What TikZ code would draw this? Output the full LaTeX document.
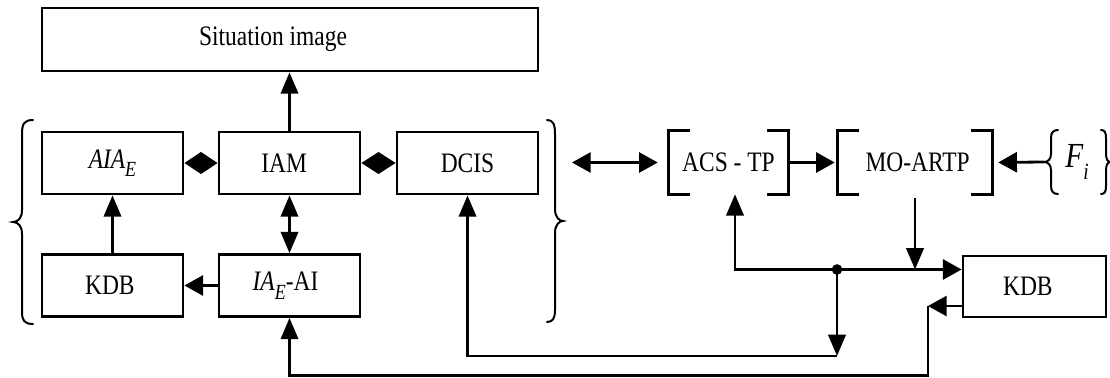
\documentclass[tikz,border=0pt]{standalone}
\usepackage{fontspec}
\setmainfont{Liberation Serif}
\usetikzlibrary{arrows.meta,calc}

% slightly tall lettering
\newcommand\vs[1]{\scalebox{1}[1.2]{#1}}
\newcommand\sub[1]{\raisebox{-0.3em}{\fontsize{13.5}{14}\selectfont\itshape #1}}

\tikzset{
  txt/.style={font=\fontsize{17.6}{20}\selectfont},
  box/.style={txt, draw, line width=2.1pt, inner sep=0pt,
              minimum width=105.75pt, minimum height=46.5pt},
  brk/.style={txt, inner sep=0pt, minimum height=47.25pt},
  conn/.style={line width=2.1pt},
  htip/.tip={Triangle[length=14pt,width=15pt]},
  vtip/.tip={Triangle[length=16pt,width=13pt]},
  harr/.style={conn, -htip},
  varr/.style={conn, -vtip},
  bracepen/.style={line width=1.5pt, line cap=round},
}

\begin{document}
\begin{tikzpicture}[x=0.75pt,y=-0.75pt]
\useasboundingbox (0,0) rectangle (1110,378);

% ---- left group ----
\node[box, minimum width=372pt, minimum height=47.25pt] (si) at (290,39.5)
  {\vs{\hspace*{-25.5pt}Situation image}};
\node[box] (aia)  at (112.5,163)   {\vs{\itshape AIA\sub{E}}};
\node[box] (iam)  at (289.5,163)   {\vs{\hspace*{-8pt}IAM}};
\node[box] (dcis) at (467.5,163)   {\vs{DCIS}};
\node[box] (kdbl) at (112.5,285.5) {\vs{\hspace*{-4pt}KDB}};
\node[box] (iae)  at (289.5,285.5) {\vs{\hspace*{-6pt}{\itshape IA}\sub{E}-AI}};

% ---- right group ----
\node[brk, minimum width=89.25pt] (acs) at (728.5,162.5) {\vs{ACS - TP}};
\node[brk, minimum width=115.5pt] (mo)  at (915,162.5)   {\vs{\hspace*{4pt}MO-ARTP}};
\node[inner sep=0pt, minimum width=49.5pt, minimum height=48pt] (fi) at (1077,162)
  {\vs{\fontsize{22}{24}\selectfont\itshape F\raisebox{-0.35em}{\fontsize{14.5}{15}\selectfont i}}};
\node[box, minimum width=107.25pt, minimum height=45.75pt] (kdbr) at (1034.5,286.5) {\vs{\hspace*{-10pt}KDB}};

% square brackets
\foreach \n in {acs,mo}{
  \draw[conn] ([xshift=15.75pt]\n.north west) -- (\n.north west) -- (\n.south west) -- ([xshift=15.75pt]\n.south west);
  \draw[conn] ([xshift=-15.75pt]\n.north east) -- (\n.north east) -- (\n.south east) -- ([xshift=-15.75pt]\n.south east);
}

% curly braces
\draw[bracepen] (33,120) .. controls (24,120) and (22,124) .. (22,134) -- (22,210)
  .. controls (22,218) and (18,222) .. (13,222) .. controls (18,222) and (22,226) .. (22,234)
  -- (22,312) .. controls (22,320) and (24,324) .. (33,324);
\draw[bracepen] (547,120) .. controls (553,120) and (555,124) .. (555,134) -- (555,209)
  .. controls (555,217) and (559,221) .. (563,221) .. controls (559,221) and (555,225) .. (555,233)
  -- (555,310) .. controls (555,318) and (553,322) .. (547,322);
\draw[bracepen] (1058,130) .. controls (1053,130) and (1051,133) .. (1051,138) -- (1051,154)
  .. controls (1051,159) and (1048,162) .. (1044,162) .. controls (1048,162) and (1051,165) .. (1051,170)
  -- (1051,186) .. controls (1051,191) and (1053,194) .. (1058,194);
\draw[bracepen] (1101,130) .. controls (1105,130) and (1106,133) .. (1106,138) -- (1106,154)
  .. controls (1106,159) and (1108,162) .. (1110,162) .. controls (1108,162) and (1106,165) .. (1106,170)
  -- (1106,186) .. controls (1106,191) and (1105,194) .. (1101,194);
\coordinate (rbt) at (563,162.5);

% diamonds
\fill (aia.east) -- ($(aia.east)!.5!(iam.west)+(0,-11)$) -- (iam.west)
  -- ($(aia.east)!.5!(iam.west)+(0,11)$) -- cycle;
\fill (iam.east) -- ($(iam.east)!.5!(dcis.west)+(0,-11)$) -- (dcis.west)
  -- ($(iam.east)!.5!(dcis.west)+(0,11)$) -- cycle;

% connectors, left group
\draw[varr] (iam.north) -- (iam.north |- si.south);
\draw[varr] (kdbl.north) -- (aia.south);
\draw[conn, vtip-vtip] (iam.south) -- (iae.north);
\draw[harr] (iae.west) -- (kdbl.east);

% connectors, right group
\draw[conn, htip-htip, shorten <=6.75pt, shorten >=8.25pt] (rbt) -- (rbt -| acs.west);
\draw[harr, shorten >=2.25pt] (acs.east) -- (mo.west);
\draw[harr, shorten >=4.5pt] (fi.west) -- (mo.east);

\coordinate (c1) at (735,269.5);
\coordinate (j)  at (837,269.5);
\coordinate (b1) at (837,356);
\coordinate (k2) at (928,306);
\coordinate (b2) at (928,375.5);

\draw[conn, vtip-htip] (c1 |- acs.south) -- (c1) -- (c1 -| kdbr.west);
\draw[varr, shorten <=3pt] (mo.south) -- (mo.south |- c1);
\fill (j) circle[radius=4pt];
\draw[varr] (j) -- (b1);
\draw[varr] (b1) -- (b1 -| dcis.south) -- (dcis.south);
\draw[harr] (k2 -| kdbr.west) -- (k2);
\draw[varr] (k2) -- (b2) -- (b2 -| iae.south) -- (iae.south);
\end{tikzpicture}
\end{document}
